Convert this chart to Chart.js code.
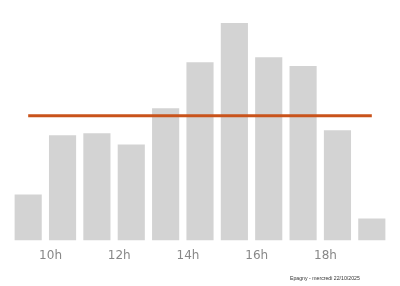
<!DOCTYPE html>
<html>
<head>
<meta charset="utf-8">
<script src="https://cdn.jsdelivr.net/npm/chart.js@4"></script>
<style>
    html, body { margin: 0; padding: 0; background: #fff; }
    #wrap { width: 400px; height: 286px; }
</style>
</head>
<body>
<div id="wrap"><canvas id="affluence"></canvas></div>
<script>
// Heures (categories) et valeurs
const heures = ["9h", "10h", "11h", "12h", "13h", "14h", "15h", "16h", "17h", "18h", "19h"];
const affluence = [21.2, 48.4, 49.3, 44.2, 60.8, 82.0, 100, 84.3, 80.2, 50.7, 10.1];
const moyenne = [57.4, 57.4, 57.4, 57.4, 57.4, 57.4, 57.4, 57.4, 57.4, 57.4, 57.4];
const heuresAffichees = ["10h", "12h", "14h", "16h", "18h"];
const legende = "Epagny - mercredi 22/10/2025";

// Petit texte en bas a droite
const footerPlugin = {
    id: "footer",
    afterDraw(chart) {
        const ctx = chart.ctx;
        ctx.save();
        ctx.font = "5.2px 'Liberation Sans', Arial, sans-serif";
        ctx.fillStyle = "#333";
        ctx.textAlign = "left";
        ctx.textBaseline = "middle";
        ctx.fillText(legende, 290, 278.5);
        ctx.restore();
    }
};

const ctx = document.getElementById("affluence").getContext("2d");
new Chart(ctx, {
    type: "bar",
    data: {
        labels: heures,
        datasets: [
            {
                type: "line",
                label: "Moyenne",
                data: moyenne,
                borderColor: "#c9531b",
                borderWidth: 3,
                pointRadius: 0,
                fill: false,
                order: 0
            },
            {
                label: "Affluence",
                data: affluence,
                backgroundColor: "#d3d3d3",
                barPercentage: 0.79,
                categoryPercentage: 1,
                order: 1
            }
        ]
    },
    options: {
        responsive: true,
        maintainAspectRatio: false,
        animation: false,
        layout: { padding: { top: 23, left: 11, right: 11, bottom: 15 } },
        plugins: {
            legend: { display: false },
            tooltip: { enabled: false }
        },
        scales: {
            x: {
                grid: { display: false, drawTicks: false },
                border: { display: false },
                ticks: {
                    autoSkip: false,
                    maxRotation: 0,
                    padding: 8,
                    labelOffset: -12,
                    color: "#888",
                    font: { family: "'DejaVu Sans'", size: 12 },
                    callback: function (value) {
                        const h = heures[value];
                        return heuresAffichees.includes(h) ? h : "";
                    }
                }
            },
            y: {
                display: false,
                min: 0,
                max: 100
            }
        }
    },
    plugins: [footerPlugin]
});
</script>
</body>
</html>
